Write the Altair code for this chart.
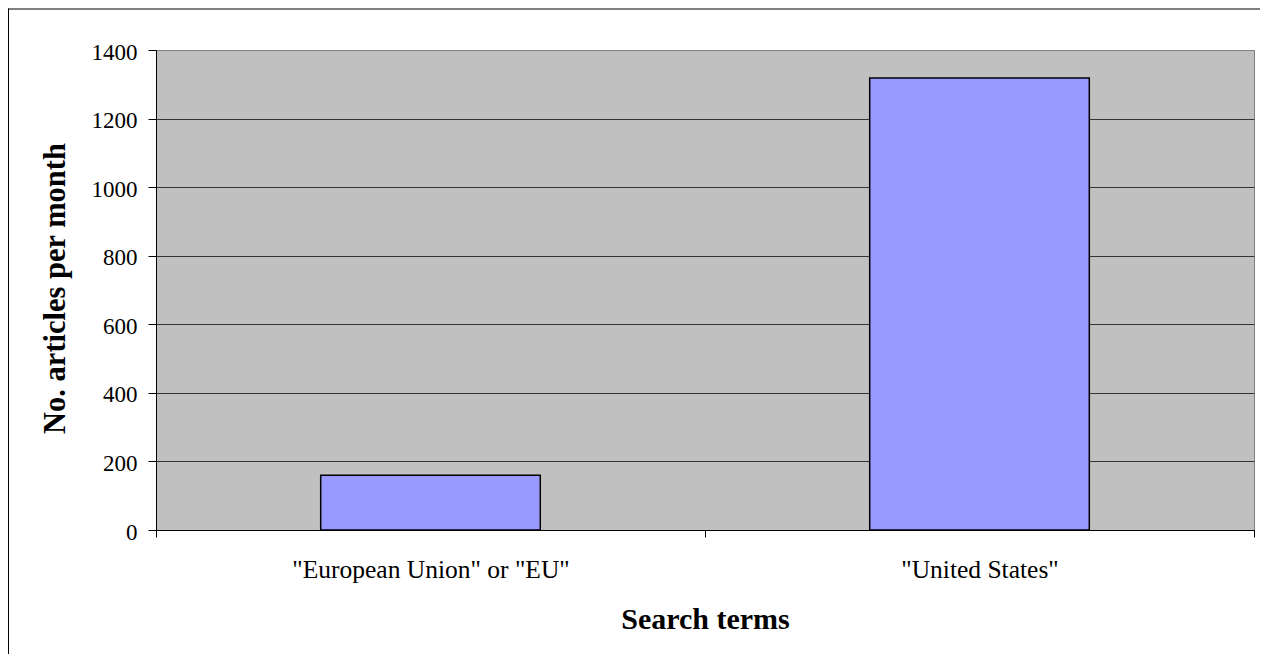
import altair as alt
import pandas as pd

categories = ['"European Union" or "EU"', '"United States"']
articles = [160, 1318]
y_ticks = [0, 200, 400, 600, 800, 1000, 1200, 1400]

df = pd.DataFrame({"term": categories, "count": articles})

FONT = "Liberation Serif"

bars = alt.Chart(df).mark_bar(
    color="#9999FF", stroke="black", strokeWidth=1.5,
    width=alt.RelativeBandSize(0.4)
).encode(
    x=alt.X("term:N", sort=categories,
            scale=alt.Scale(paddingInner=0, paddingOuter=0),
            axis=alt.Axis(title="Search terms", labelAngle=0, tickBand="extent",
                          tickSize=7, labelPadding=20, labelFontSize=25.5,
                          labelFont=FONT, labelColor="black", labelLimit=600,
                          domainColor="black", tickColor="black", grid=False,
                          titleFont=FONT, titleFontSize=30, titleFontWeight="bold",
                          titleColor="black", titleY=98, titleBaseline="alphabetic")),
    y=alt.Y("count:Q", scale=alt.Scale(domain=[0, 1400], nice=False),
            axis=alt.Axis(values=y_ticks, format="d", tickSize=8, labelPadding=11,
                          labelFontSize=23, labelFont=FONT, labelColor="black",
                          labelOffset=2,
                          domainColor="black", tickColor="black", grid=True,
                          gridColor=alt.condition("datum.value == 1400",
                                                  alt.value("#808080"),
                                                  alt.value("#333333")),
                          gridWidth=1,
                          title="No. articles per month", titleFont=FONT,
                          titleFontSize=30.5, titleFontWeight="bold",
                          titleColor="black", titleX=-92, titleY=238,
                          titleAngle=270, titleAlign="center",
                          titleBaseline="alphabetic")),
)

frame_src = alt.Chart(pd.DataFrame({"a": [0]}))
left_border = frame_src.mark_rule(color="black", strokeWidth=1).encode(
    x=alt.value(-147.5), y=alt.value(-41.5), y2=alt.value(604))
top_border = frame_src.mark_rule(color="black", strokeWidth=1).encode(
    x=alt.value(-148), x2=alt.value(1104), y=alt.value(-41))

chart = alt.layer(bars, left_border, top_border).properties(
    width=1098, height=480,
    autosize=alt.AutoSizeParams(type="none"),
    padding={"left": 148, "top": 42, "right": 6, "bottom": 124},
    background="white",
).configure_view(
    fill="#C0C0C0", stroke="#808080", strokeWidth=1
)

chart.save("out.html", embed_options={"renderer": "svg", "actions": False})
